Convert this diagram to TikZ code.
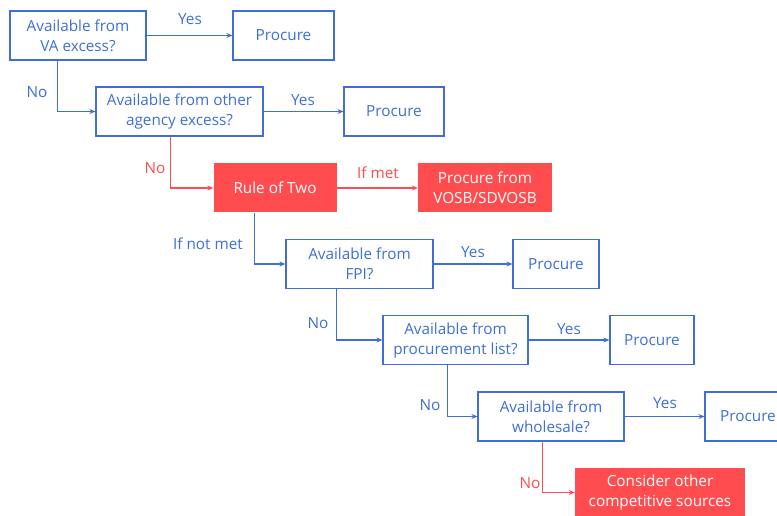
\documentclass[tikz,border=0pt]{standalone}
\usepackage{fontspec}
\setmainfont{Open Sans}
\usetikzlibrary{arrows.meta}
\definecolor{vablue}{HTML}{3F6FD6}
\definecolor{vared}{HTML}{FF4D4F}

\begin{document}
\begin{tikzpicture}[x=1pt,y=-1pt,>={Stealth[length=6pt,width=5pt]},
  txt/.style={font=\fontsize{15.3}{20}\selectfont},
  qbox/.style={txt,draw=vablue,line width=1.2pt,text=vablue,align=center,
    inner sep=0pt,minimum height=49pt},
  rbox/.style={txt,fill=vared,text=white,align=center,inner sep=0pt,
    minimum height=49pt},
  flow/.style={->,line width=1.2pt,draw=vablue},
  rflow/.style={->,line width=1.2pt,draw=vared},
  lbl/.style={txt,text=vablue},
  rlbl/.style={txt,text=vared}]
  \clip (0,0) rectangle (777,516);
  \fill[white] (0,0) rectangle (777,516);
  % ---- boxes
  \node[qbox,minimum width=136pt] (q1) at (78,35.5) {Available from\\VA excess?};
  \node[qbox,minimum width=101pt] (p1) at (283.5,35.5) {Procure};
  \node[qbox,minimum width=167pt] (q2) at (179.5,111.5) {Available from other\\agency excess?};
  \node[qbox,minimum width=100pt] (p2) at (394,111.5) {Procure};
  \node[rbox,minimum width=123pt] (rule) at (275,188) {Rule of Two};
  \node[rbox,minimum width=134pt] (vosb) at (485,188) {Procure from\\VOSB/SDVOSB};
  \node[qbox,minimum width=147pt] (fpi) at (359.5,264) {Available from\\FPI?};
  \node[qbox,minimum width=86pt] (p3) at (556,264) {Procure};
  \node[qbox,minimum width=145pt] (list) at (455.5,340) {Available from\\procurement list?};
  \node[qbox,minimum width=84pt] (p4) at (652,340) {Procure};
  \node[qbox,minimum width=146pt] (whole) at (551,416.5) {Available from\\wholesale?};
  \node[qbox,minimum width=86pt] (p5) at (748,416.5) {Procure};
  \node[rbox,minimum width=170pt] (other) at (660,492.5) {Consider other\\competitive sources};
  % ---- connectors
  \draw[flow] (q1) -- (p1);
  \draw[flow] ([xshift=48pt]q1.south west) |- (q2);
  \draw[flow] (q2) -- (p2);
  \draw[rflow] ([xshift=75pt]q2.south west) |- (rule);
  \draw[rflow] (rule) -- (vosb);
  \draw[flow] ([xshift=41.5pt]rule.south west) |- (fpi);
  \draw[flow] (fpi) -- (p3);
  \draw[flow] ([xshift=51pt]fpi.south west) |- (list);
  \draw[flow] (list) -- (p4);
  \draw[flow] ([xshift=65pt]list.south west) |- (whole);
  \draw[flow] (whole) -- (p5);
  \draw[rflow] ([xshift=65pt]whole.south west) |- (other);
  % ---- labels
  \node[lbl] (y1) at (190,19) {Yes};
  \node[lbl] (n1) at (37,92) {No};
  \node[lbl] (y2) at (303,100) {Yes};
  \node[rlbl] (n2) at (155,168) {No};
  \node[rlbl] (met) at (378,173) {If met};
  \node[lbl] (notmet) at (208,244) {If not met};
  \node[lbl] (y3) at (473,252) {Yes};
  \node[lbl] (n3) at (318,323) {No};
  \node[lbl] (y4) at (569,329) {Yes};
  \node[lbl] (n4) at (430,405) {No};
  \node[lbl] (y5) at (665,403) {Yes};
  \node[rlbl] (n5) at (530,483) {No};
\end{tikzpicture}
\end{document}
